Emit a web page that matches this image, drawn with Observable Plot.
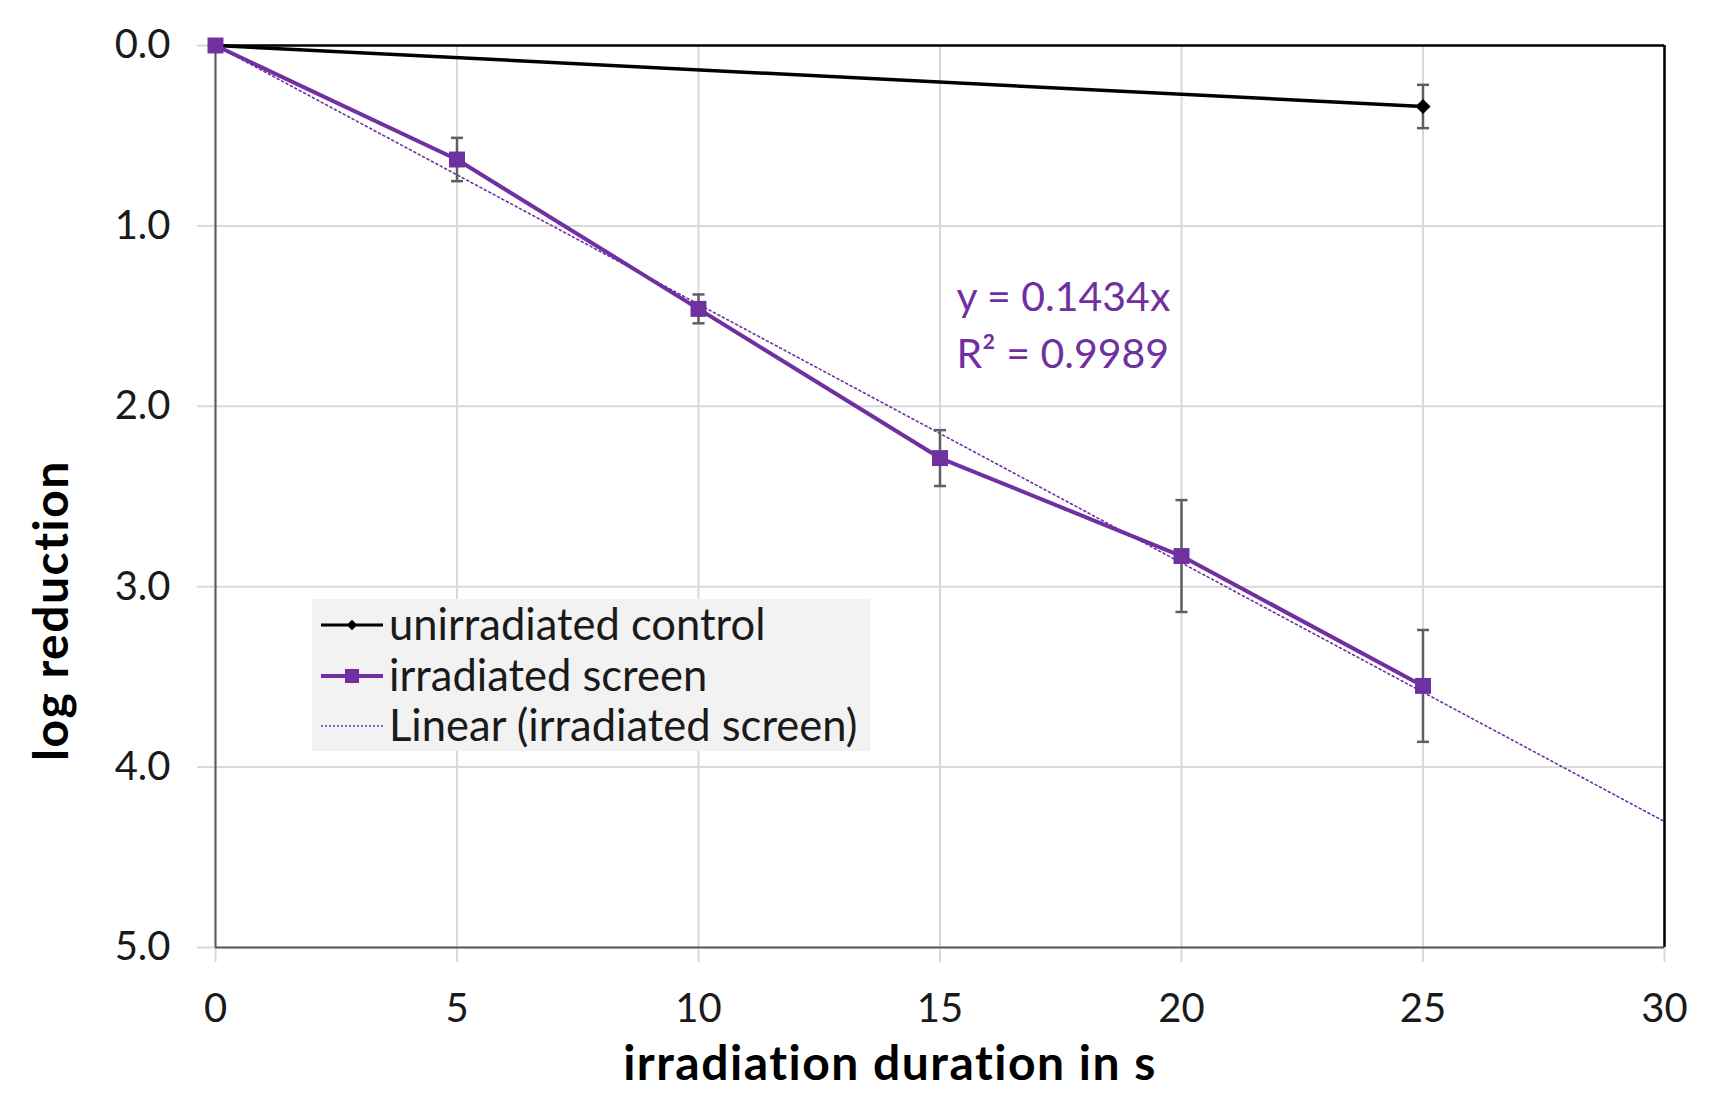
<!DOCTYPE html>
<html><head><meta charset="utf-8">
<script src="https://cdn.jsdelivr.net/npm/d3@7"></script>
<script src="https://cdn.jsdelivr.net/npm/@observablehq/plot@0.6"></script>
<style>
body{margin:0;background:#fff;}
#wrap{position:relative;width:1717px;height:1093px;font-family:Lato, sans-serif;}
#legend{position:absolute;left:312px;top:599px;width:558px;height:152px;background:#f2f2f2;}
#legend svg{overflow:visible;display:block;}
</style></head><body><div id="wrap"><div id="legend"></div></div>
<script>
// ---- data ----
const durations = [0, 5, 10, 15, 20, 25];
const screenY = [0, 0.632, 1.46, 2.287, 2.83, 3.55];
const screenErr = [0, 0.12, 0.08, 0.155, 0.31, 0.31];
const controlX = [0, 25];
const controlY = [0, 0.338];
const controlErr = [0, 0.12];
const trendSlope = 0.1434;
const trendX = [0, 30];
const xTicks = [0, 5, 10, 15, 20, 25, 30];
const yTicks = [0, 1, 2, 3, 4, 5];
const equationLines = ["y = 0.1434x", "R² = 0.9989"];
const equationPos = {x: 15.34, y: 1.53};
const legendLabels = ["unirradiated control", "irradiated screen", "Linear (irradiated screen)"];
const xLabel = "irradiation duration in s";
const yLabel = "log reduction";

// ---- build ----
const purple = "#7030a0";
const errColor = "#5f5f5f";
const font = "Lato, sans-serif";
const control = controlX.map((x, i) => ({x, y: controlY[i], e: controlErr[i]}));
const screen = durations.map((x, i) => ({x, y: screenY[i], e: screenErr[i]}));
const trend = trendX.map(x => ({x, y: trendSlope * x}));
const bars = [...control, ...screen].filter(d => d.e > 0);
const cap = {draw(ctx, size) { const w = Math.sqrt(size) / 2; ctx.moveTo(-w, 0); ctx.lineTo(w, 0); }};

const chart = Plot.plot({
  width: 1717, height: 1093,
  marginLeft: 215, marginRight: 53, marginTop: 45, marginBottom: 146,
  style: {fontFamily: font, background: "white", overflow: "visible"},
  x: {domain: [0, 30]},
  y: {domain: [0, 5], reverse: true},
  marks: [
    Plot.gridX(xTicks, {stroke: "#d9d9d9", strokeOpacity: 1, strokeWidth: 2}),
    Plot.gridY(yTicks, {stroke: "#d9d9d9", strokeOpacity: 1, strokeWidth: 2}),
    Plot.axisX(xTicks, {tickSize: 15, tickPadding: 31, stroke: "#d9d9d9", strokeWidth: 2, fill: "#1a1a1a", fontSize: 40, label: null, tickFormat: d => String(d)}),
    Plot.axisY(yTicks, {tickSize: 18, tickPadding: 27, stroke: "#d9d9d9", strokeWidth: 2, fill: "#1a1a1a", fontSize: 40, label: null, tickFormat: d3.format(".1f")}),
    Plot.ruleY([5], {stroke: "#595959", strokeWidth: 2}),
    Plot.ruleX([0], {stroke: "#595959", strokeWidth: 2}),
    Plot.ruleY([0], {stroke: "black", strokeWidth: 2.5}),
    Plot.ruleX([30], {stroke: "black", strokeWidth: 2.5}),
    Plot.line(trend, {x: "x", y: "y", stroke: purple, strokeWidth: 1.6, strokeDasharray: "2,3"}),
    Plot.line(control, {x: "x", y: "y", stroke: "black", strokeWidth: 3.5}),
    Plot.line(screen, {x: "x", y: "y", stroke: purple, strokeWidth: 4}),
    Plot.ruleX(bars, {x: "x", y1: d => d.y - d.e, y2: d => d.y + d.e, stroke: errColor, strokeWidth: 2.5}),
    Plot.dot(bars, {x: "x", y: d => d.y - d.e, symbol: cap, r: 6.8, stroke: errColor, fill: "none", strokeWidth: 2.5}),
    Plot.dot(bars, {x: "x", y: d => d.y + d.e, symbol: cap, r: 6.8, stroke: errColor, fill: "none", strokeWidth: 2.5}),
    Plot.dot(control, {x: "x", y: "y", symbol: "diamond2", r: 6.8, fill: "black", stroke: "none"}),
    Plot.dot(screen, {x: "x", y: "y", symbol: "square", r: 9, fill: purple, stroke: "none"}),
    Plot.text([equationLines.join("\n")], {x: () => equationPos.x, y: () => equationPos.y, text: d => d, textAnchor: "start", lineHeight: 1.37, fontSize: 41, fill: purple}),
    Plot.text([yLabel], {frameAnchor: "left", text: d => d, rotate: -90, textAnchor: "middle", lineAnchor: "middle", dx: -163, dy: 114, fontSize: 48, fontWeight: "bold", fill: "black"}),
    Plot.text([xLabel], {frameAnchor: "bottom", text: d => d, textAnchor: "middle", lineAnchor: "bottom", dx: -50, dy: 132, fontSize: 48, fontWeight: "bold", fill: "black"})
  ]
});
d3.select(chart).selectAll("text").filter(function() { return this.textContent === xLabel || this.textContent === yLabel; })
  .style("letter-spacing", "1.5px");
document.getElementById("wrap").prepend(chart);

// ---- legend ----
const lg = d3.select("#legend").append("svg").attr("width", 558).attr("height", 152);
const rows = [26, 77, 127];
legendLabels.forEach((t, i) => {
  const g = lg.append("g").attr("transform", `translate(0,${rows[i]})`);
  if (i === 0) {
    g.append("line").attr("x1", 9).attr("x2", 71).attr("stroke", "black").attr("stroke-width", 3);
    g.append("path").attr("d", d3.symbol(d3.symbolDiamond2, 70)()).attr("transform", "translate(40,0)").attr("fill", "black");
  } else if (i === 1) {
    g.append("line").attr("x1", 9).attr("x2", 71).attr("stroke", purple).attr("stroke-width", 4);
    g.append("rect").attr("x", 33).attr("y", -7).attr("width", 14).attr("height", 14).attr("fill", purple);
  } else {
    g.append("line").attr("x1", 9).attr("x2", 71).attr("stroke", purple).attr("stroke-width", 1.5).attr("stroke-dasharray", "2,2");
  }
  g.append("text").attr("x", 77).attr("dy", "0.35em").attr("font-size", 43.5).attr("font-family", font).attr("fill", "#1a1a1a").text(t);
});
</script></body></html>
